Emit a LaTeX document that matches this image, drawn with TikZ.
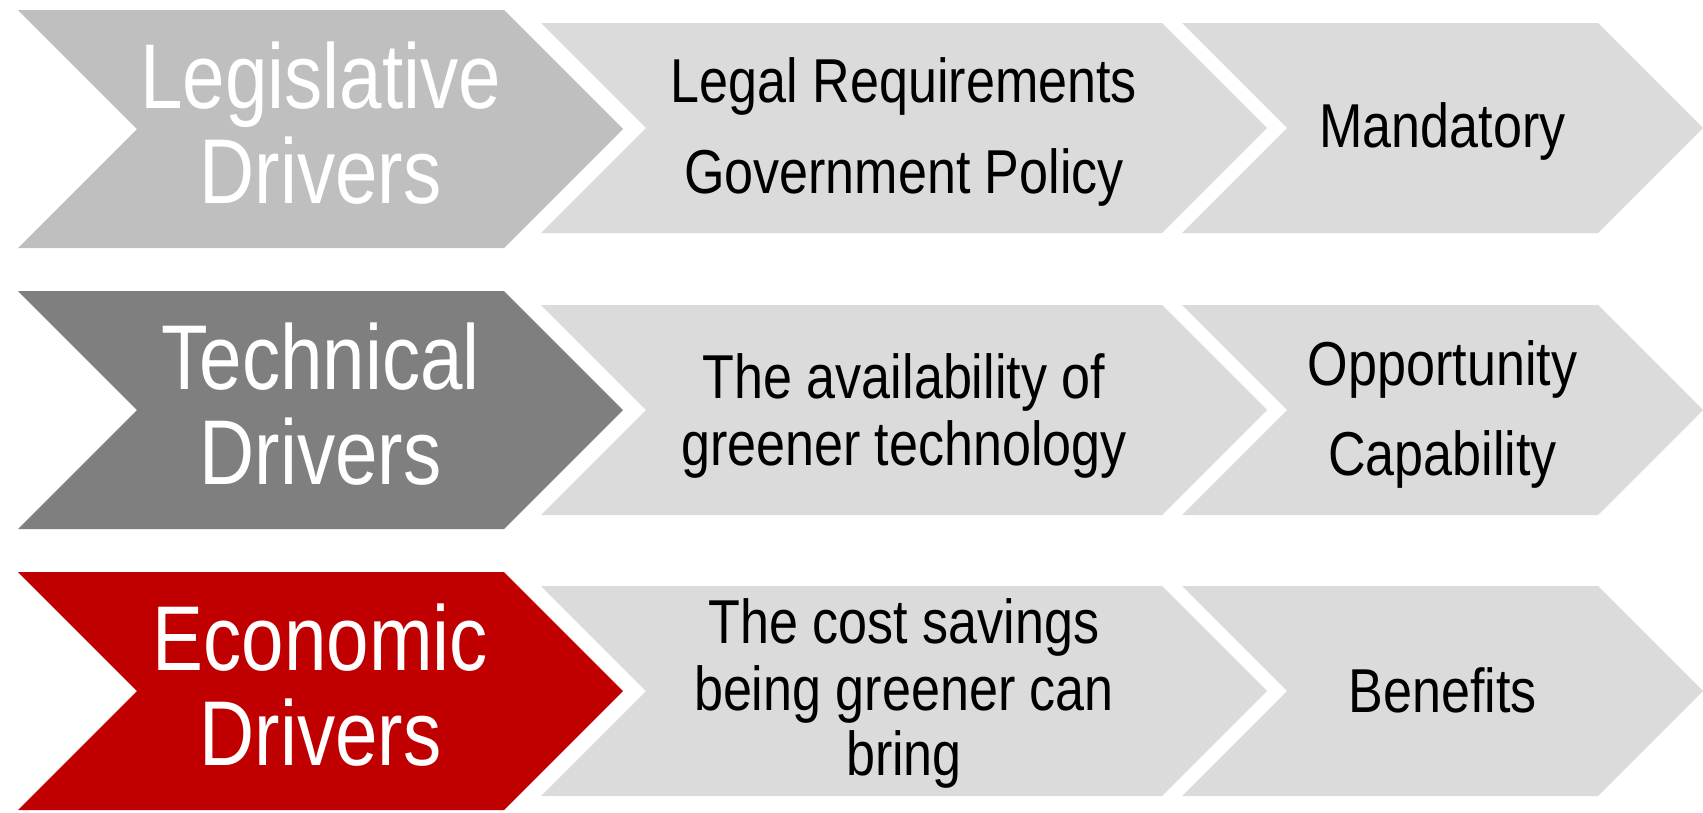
\documentclass[tikz,border=0pt]{standalone}
\usepackage{fontspec}
\newfontfamily\bigfont[FakeStretch=0.83]{Liberation Sans}
\newfontfamily\smallfont[FakeStretch=0.84]{Liberation Sans}
\definecolor{legcol}{HTML}{BFBFBF}
\definecolor{teccol}{HTML}{7F7F7F}
\definecolor{ecocol}{HTML}{C00000}
\definecolor{palecol}{HTML}{DBDBDB}
\tikzset{
  bigtxt/.style={font=\bigfont\fontsize{92}{95}\selectfont, text=white, inner sep=0pt, anchor=base},
  smalltxt/.style={font=\smallfont\fontsize{62}{67}\selectfont, text=black, inner sep=0pt, anchor=base},
}
% big chevron: centre y, colour
\newcommand\mkbigchev[2]{%
  \fill[#2] (18,#1-119) -- (504,#1-119) -- (623,#1) -- (504,#1+119) -- (18,#1+119) -- (137,#1) -- cycle;}
% small chevron: left x, corner x, centre y
\newcommand\mksmallchev[3]{%
  \fill[palecol] (#1,#3-105) -- (#2,#3-105) -- (#2+105,#3) -- (#2,#3+105) -- (#1,#3+105) -- (#1+105,#3) -- cycle;}
\begin{document}
\begin{tikzpicture}[x=1pt,y=-1pt]
\useasboundingbox (0,0) rectangle (1703,812);
% row 1
\mkbigchev{129}{legcol}
\mksmallchev{541}{1162}{128}
\mksmallchev{1182}{1598}{128}
% row 2
\mkbigchev{410}{teccol}
\mksmallchev{541}{1162}{410}
\mksmallchev{1182}{1598}{410}
% row 3
\mkbigchev{691}{ecocol}
\mksmallchev{541}{1162}{691}
\mksmallchev{1182}{1598}{691}

% row 1 texts
\node[bigtxt] (leg1) at (320.5,108) {Legislative};
\node[bigtxt] (leg2) at (320.5,203) {Drivers};
\node[smalltxt] (legm1) at (904,102) {Legal Requirements};
\node[smalltxt] (legm2) at (904,193) {Government Policy};
\node[smalltxt] (legr1) at (1442.5,147) {Mandatory};

% row 2 texts
\node[bigtxt] (tec1) at (320.5,389) {Technical};
\node[bigtxt] (tec2) at (320.5,484) {Drivers};
\node[smalltxt] (tecm1) at (904,398) {The availability of};
\node[smalltxt] (tecm2) at (904,465) {greener technology};
\node[smalltxt] (tecr1) at (1442.5,385) {Opportunity};
\node[smalltxt] (tecr2) at (1442.5,475) {Capability};

% row 3 texts
\node[bigtxt] (eco1) at (320.5,670) {Economic};
\node[bigtxt] (eco2) at (320.5,765) {Drivers};
\node[smalltxt] (ecom1) at (904,643) {The cost savings};
\node[smalltxt] (ecom2) at (904,710) {being greener can};
\node[smalltxt] (ecom3) at (904,775) {bring};
\node[smalltxt] (ecor1) at (1442.5,712) {Benefits};
\end{tikzpicture}
\end{document}
